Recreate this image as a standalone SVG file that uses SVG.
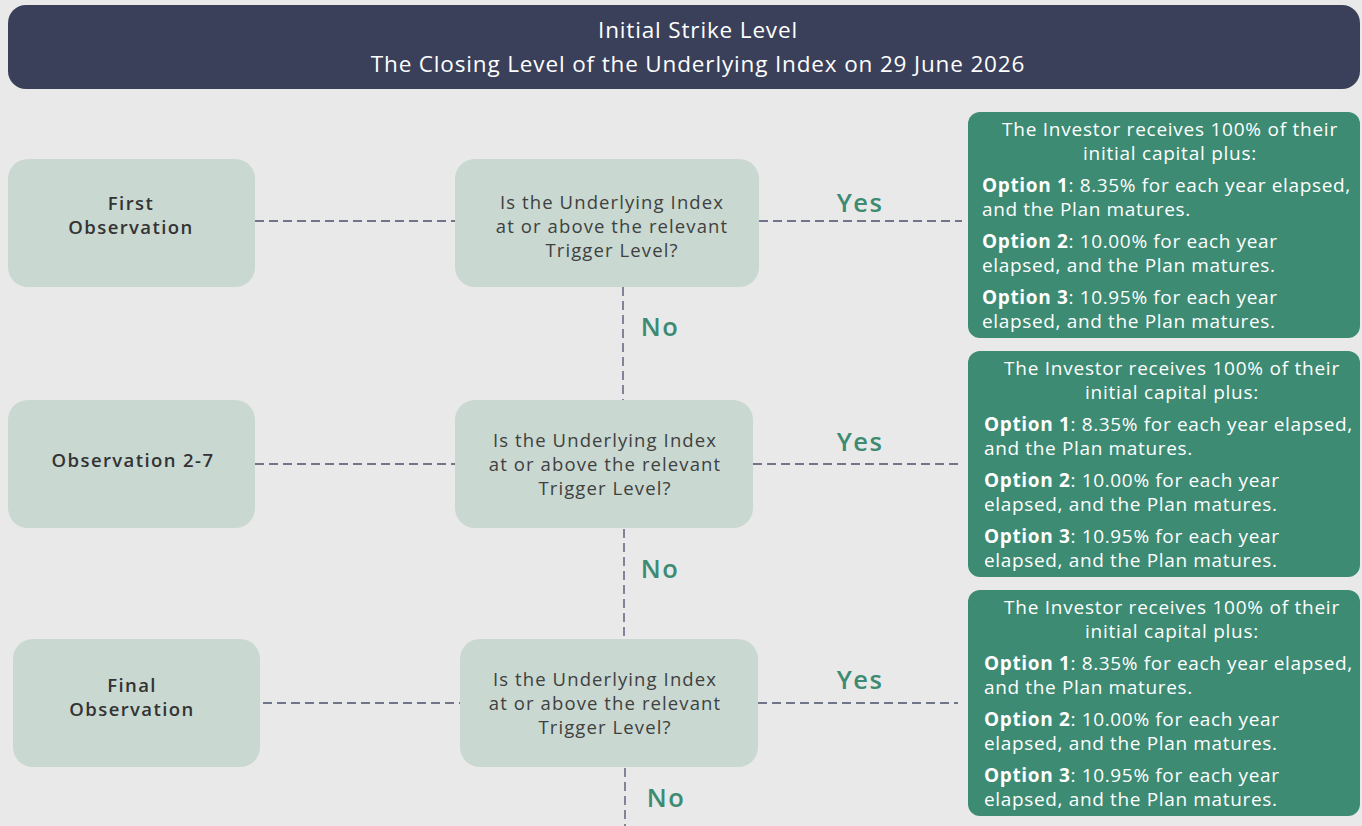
<svg xmlns="http://www.w3.org/2000/svg" width="1362" height="826" viewBox="0 0 1362 826">
<style>
text{font-family:"Open Sans","Noto Sans","Liberation Sans",sans-serif}
.hdr{fill:#3a405a}
.obs{fill:#c9d8d1}
.res{fill:#3d8b73}
.ht{fill:#ffffff;font-size:22.5px;text-anchor:middle;letter-spacing:0.85px}
.ot{fill:#333333;font-size:18.5px;font-weight:600;text-anchor:middle;letter-spacing:1.4px}
.qt{fill:#404040;font-size:18.5px;text-anchor:middle;letter-spacing:1.1px}
.rt{fill:#ffffff;font-size:19px;letter-spacing:0.65px}
.rc{text-anchor:middle;letter-spacing:0.75px}
.b{font-weight:700}
.lab{fill:#3d8b73;font-size:25.5px;font-weight:600;text-anchor:middle;letter-spacing:1.5px}
.cn{stroke:#4a4f6a;stroke-width:1.3;stroke-dasharray:9 5;fill:none}
</style>
<rect width="1362" height="826" fill="#e9e9e9"/>
<g id="header">
<rect class="hdr" x="8" y="5" width="1352" height="84" rx="18"/>
<text class="ht" x="698" y="38">Initial Strike Level</text>
<text class="ht" x="698" y="72">The Closing Level of the Underlying Index on 29 June 2026</text>
</g>
<g id="connectors">
<line class="cn" x1="255" y1="221" x2="455" y2="221"/>
<line class="cn" x1="759" y1="221" x2="962" y2="221"/>
<line class="cn" x1="623" y1="287" x2="623" y2="400"/>
<line class="cn" x1="255" y1="464" x2="455" y2="464"/>
<line class="cn" x1="753" y1="464" x2="958" y2="464"/>
<line class="cn" x1="624" y1="529" x2="624" y2="639"/>
<line class="cn" x1="263" y1="703" x2="460" y2="703"/>
<line class="cn" x1="758" y1="703" x2="958" y2="703"/>
<line class="cn" x1="625" y1="768" x2="625" y2="826"/>
<text class="lab" x="860" y="212">Yes</text>
<text class="lab" x="660" y="336">No</text>
<text class="lab" x="860" y="451">Yes</text>
<text class="lab" x="660" y="578">No</text>
<text class="lab" x="860" y="689">Yes</text>
<text class="lab" x="666" y="807">No</text>
</g>
<g id="obs1">
<rect class="obs" x="8" y="159" width="247" height="128" rx="20"/>
<text class="ot" x="131" y="210">First</text>
<text class="ot" x="131" y="234">Observation</text>
</g>
<g id="q1">
<rect class="obs" x="455" y="159" width="304" height="128" rx="20"/>
<text class="qt" x="612" y="209">Is the Underlying Index</text>
<text class="qt" x="612" y="233">at or above the relevant</text>
<text class="qt" x="612" y="257">Trigger Level?</text>
</g>
<g id="r1">
<rect class="res" x="968" y="112" width="392" height="226" rx="12"/>
<text class="rt rc" x="1170" y="136">The Investor receives 100% of their</text>
<text class="rt rc" x="1170" y="160">initial capital plus:</text>
<text class="rt" x="982" y="192"><tspan class="b">Option 1</tspan>: 8.35% for each year elapsed,</text>
<text class="rt" x="982" y="216">and the Plan matures.</text>
<text class="rt" x="982" y="248"><tspan class="b">Option 2</tspan>: 10.00% for each year</text>
<text class="rt" x="982" y="272">elapsed, and the Plan matures.</text>
<text class="rt" x="982" y="304"><tspan class="b">Option 3</tspan>: 10.95% for each year</text>
<text class="rt" x="982" y="328">elapsed, and the Plan matures.</text>
</g>
<g id="obs2">
<rect class="obs" x="8" y="400" width="247" height="128" rx="20"/>
<text class="ot" x="133" y="467">Observation 2-7</text>
</g>
<g id="q2">
<rect class="obs" x="455" y="400" width="298" height="128" rx="20"/>
<text class="qt" x="605" y="447">Is the Underlying Index</text>
<text class="qt" x="605" y="471">at or above the relevant</text>
<text class="qt" x="605" y="495">Trigger Level?</text>
</g>
<g id="r2">
<rect class="res" x="968" y="351" width="392" height="226" rx="12"/>
<text class="rt rc" x="1172" y="375">The Investor receives 100% of their</text>
<text class="rt rc" x="1172" y="399">initial capital plus:</text>
<text class="rt" x="984" y="431"><tspan class="b">Option 1</tspan>: 8.35% for each year elapsed,</text>
<text class="rt" x="984" y="455">and the Plan matures.</text>
<text class="rt" x="984" y="487"><tspan class="b">Option 2</tspan>: 10.00% for each year</text>
<text class="rt" x="984" y="511">elapsed, and the Plan matures.</text>
<text class="rt" x="984" y="543"><tspan class="b">Option 3</tspan>: 10.95% for each year</text>
<text class="rt" x="984" y="567">elapsed, and the Plan matures.</text>
</g>
<g id="obs3">
<rect class="obs" x="13" y="639" width="247" height="128" rx="20"/>
<text class="ot" x="132" y="692">Final</text>
<text class="ot" x="132" y="716">Observation</text>
</g>
<g id="q3">
<rect class="obs" x="460" y="639" width="298" height="128" rx="20"/>
<text class="qt" x="605" y="686">Is the Underlying Index</text>
<text class="qt" x="605" y="710">at or above the relevant</text>
<text class="qt" x="605" y="734">Trigger Level?</text>
</g>
<g id="r3">
<rect class="res" x="968" y="590" width="392" height="226" rx="12"/>
<text class="rt rc" x="1172" y="614">The Investor receives 100% of their</text>
<text class="rt rc" x="1172" y="638">initial capital plus:</text>
<text class="rt" x="984" y="670"><tspan class="b">Option 1</tspan>: 8.35% for each year elapsed,</text>
<text class="rt" x="984" y="694">and the Plan matures.</text>
<text class="rt" x="984" y="726"><tspan class="b">Option 2</tspan>: 10.00% for each year</text>
<text class="rt" x="984" y="750">elapsed, and the Plan matures.</text>
<text class="rt" x="984" y="782"><tspan class="b">Option 3</tspan>: 10.95% for each year</text>
<text class="rt" x="984" y="806">elapsed, and the Plan matures.</text>
</g>
</svg>
